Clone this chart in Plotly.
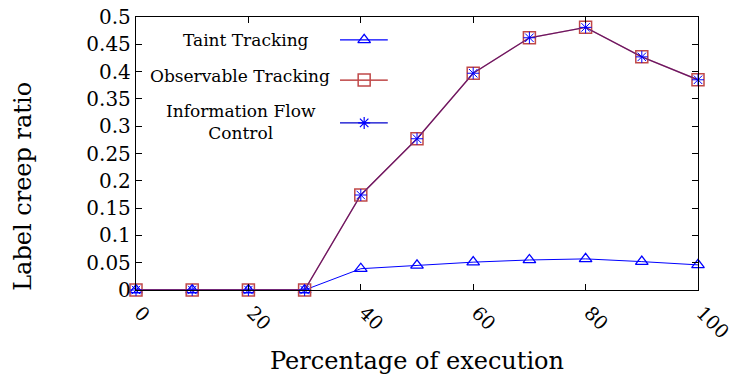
import plotly.graph_objects as go

x_pct = [0, 10, 20, 30, 40, 50, 60, 70, 80, 90, 100]
taint = [0, 0, 0, 0, 0.039, 0.045, 0.051, 0.055, 0.057, 0.052, 0.046]
observable = [0, 0, 0, 0, 0.174, 0.277, 0.397, 0.462, 0.481, 0.427, 0.385]
ifc = [0, 0, 0, 0, 0.174, 0.277, 0.397, 0.462, 0.481, 0.427, 0.385]

series_names = ["Taint Tracking", "Observable Tracking", "Information Flow<br>Control"]
y_ticks = [0, 0.05, 0.1, 0.15, 0.2, 0.25, 0.3, 0.35, 0.4, 0.45, 0.5]
y_ticklabels = ["0", "0.05", "0.1", "0.15", "0.2", "0.25", "0.3", "0.35", "0.4", "0.45", "0.5"]
x_ticks = [0, 20, 40, 60, 80, 100]
x_ticklabels = ["0", "20", "40", "60", "80", "100"]

FONT = "DejaVu Serif"
BLUE = "#0000ff"
RED = "#b22222"

fig = go.Figure()

fig.add_trace(go.Scatter(
    x=x_pct, y=taint, mode="lines+markers",
    line=dict(color=BLUE, width=1),
    marker=dict(symbol="triangle-up-open", size=11, color=BLUE, line=dict(width=1.3, color=BLUE)),
    showlegend=False, cliponaxis=False))
fig.add_trace(go.Scatter(
    x=x_pct, y=observable, mode="lines+markers",
    line=dict(color=RED, width=1.3),
    marker=dict(symbol="square-open", size=12, color="#c04848", line=dict(width=1.5, color="#c04848")),
    showlegend=False, cliponaxis=False))
fig.add_trace(go.Scatter(
    x=x_pct, y=ifc, mode="lines+markers",
    line=dict(color="rgba(0,0,200,0.4)", width=1.3),
    marker=dict(symbol="asterisk-open", size=10, color=BLUE, line=dict(width=1, color=BLUE)),
    showlegend=False, cliponaxis=False))

# Legend samples (drawn on an overlay axis spanning the plot area)
leg_rows = [0.916, 0.769, 0.612]
leg_styles = [
    dict(line=dict(color=BLUE, width=1.2), marker=dict(symbol="triangle-up-open", size=11, color=BLUE, line=dict(width=1.3, color=BLUE))),
    dict(line=dict(color=RED, width=1.2), marker=dict(symbol="square-open", size=12, color="#c04848", line=dict(width=1.5, color="#c04848"))),
    dict(line=dict(color="#0000cc", width=1.2), marker=dict(symbol="asterisk-open", size=10, color=BLUE, line=dict(width=1.2, color=BLUE))),
]
for ry, st in zip(leg_rows, leg_styles):
    fig.add_trace(go.Scatter(x=[0.363, 0.448], y=[ry, ry], mode="lines", line=st["line"],
                             xaxis="x2", yaxis="y2", showlegend=False, hoverinfo="skip"))
    fig.add_trace(go.Scatter(x=[0.406], y=[ry], mode="markers", marker=st["marker"],
                             xaxis="x2", yaxis="y2", showlegend=False, hoverinfo="skip"))

text_pos = [(0.195, 0.916), (0.185, 0.784), (0.187, 0.615)]
for name, (tx, ty) in zip(series_names, text_pos):
    fig.add_annotation(x=tx, y=ty, xref="x2 domain", yref="y2 domain", text=name, showarrow=False,
                       xanchor="center", yanchor="middle", align="center",
                       font=dict(family=FONT, size=17, color="black"))

fig.add_annotation(x=-0.2, y=0.38, xref="paper", yref="paper", text="Label creep ratio",
                   textangle=-90, showarrow=False, xanchor="center", yanchor="middle",
                   font=dict(family=FONT, size=24, color="black"))

fig.update_layout(
    width=734, height=377,
    margin=dict(l=136, r=36, t=17, b=87, autoexpand=False),
    paper_bgcolor="white", plot_bgcolor="white",
    font=dict(family=FONT, size=19, color="black"),
    xaxis=dict(range=[0, 100], tickvals=x_ticks, ticktext=x_ticklabels, tickangle=45,
               ticks="inside", ticklen=6, tickcolor="black", showline=True, linecolor="black",
               linewidth=1.3, mirror="ticks", showgrid=False, zeroline=False, automargin=False,
               tickfont=dict(family=FONT, size=19), ticklabelstandoff=3, ticklabelshift=4,
               ticklabeloverflow="allow",
               title=dict(text="Percentage of execution", font=dict(family=FONT, size=24), standoff=10)),
    yaxis=dict(range=[0, 0.5], tickvals=y_ticks, ticktext=y_ticklabels,
               ticks="inside", ticklen=6, tickcolor="black", showline=True, linecolor="black",
               linewidth=1.3, mirror="ticks", showgrid=False, zeroline=False, automargin=False,
               tickfont=dict(family=FONT, size=20)),
    xaxis2=dict(range=[0, 1], overlaying="x", visible=False, fixedrange=True),
    yaxis2=dict(range=[0, 1], overlaying="y", visible=False, fixedrange=True),
)

fig.write_html("out.html")
